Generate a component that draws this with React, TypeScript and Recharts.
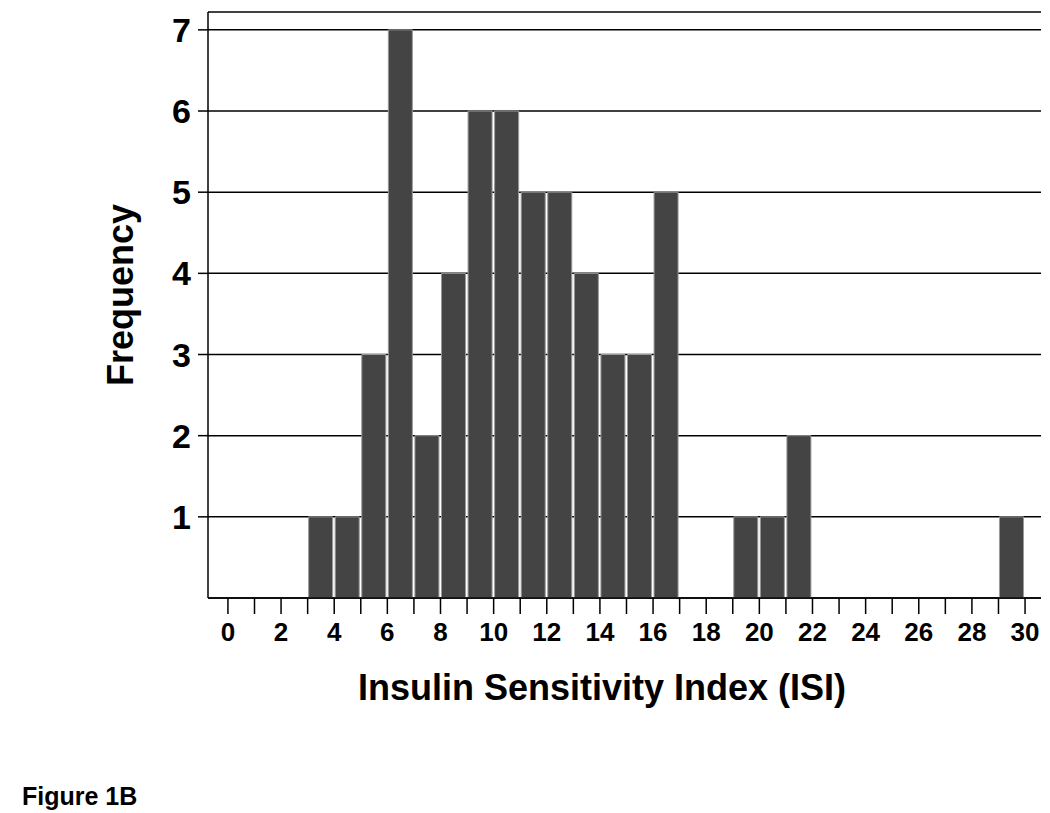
import React from "react";
import { BarChart, Bar, XAxis, YAxis, CartesianGrid } from "recharts";

// histogram bins (left edge of each 1-unit bin) and their counts
const binStarts = [3, 4, 5, 6, 7, 8, 9, 10, 11, 12, 13, 14, 15, 16, 19, 20, 21, 29];
const counts = [1, 1, 3, 7, 2, 4, 6, 6, 5, 5, 4, 3, 3, 5, 1, 1, 2, 1];

const xTicks = [0, 1, 2, 3, 4, 5, 6, 7, 8, 9, 10, 11, 12, 13, 14, 15, 16, 17, 18, 19, 20, 21, 22, 23, 24, 25, 26, 27, 28, 29, 30];
const yTicks = [1, 2, 3, 4, 5, 6, 7];

const xTitle = "Insulin Sensitivity Index (ISI)";
const yTitle = "Frequency";
const caption = "Figure 1B";

const FONT = "'Liberation Sans', Arial, sans-serif";

const data = binStarts.map((s, i) => ({ x: s + 0.5, count: counts[i] }));

// only even values carry a label
const XTick = (props: any) => {
  const { x, y, payload } = props;
  if (payload.value % 2 !== 0) return null;
  return (
    <text x={x} y={y + 19} textAnchor="middle" fontSize={26} fontWeight={700} fontFamily={FONT} fill="#000">
      {payload.value}
    </text>
  );
};

const YTick = (props: any) => {
  const { x, y, payload } = props;
  return (
    <text x={x} y={y + 12} textAnchor="end" fontSize={34} fontWeight={700} fontFamily={FONT} fill="#000">
      {payload.value}
    </text>
  );
};

export default function App() {
  return (
    <div style={{ position: "absolute", left: 0, top: 0, width: 1050, height: 813, background: "#fff", fontFamily: FONT }}>
      <BarChart
        width={1050}
        height={813}
        data={data}
        margin={{ top: 12, right: 9, left: 0, bottom: 155 }}
      >
        <CartesianGrid horizontal vertical={false} stroke="#000" strokeWidth={1.5} />
        <XAxis
          type="number"
          dataKey="x"
          domain={[-0.75, 30.6]}
          ticks={xTicks}
          interval={0}
          allowDataOverflow
          height={60}
          tickSize={16}
          tickMargin={8}
          axisLine={{ stroke: "#000", strokeWidth: 1.5 }}
          tickLine={{ stroke: "#000", strokeWidth: 1.5 }}
          tick={<XTick />}
        />
        <XAxis
          xAxisId="top"
          orientation="top"
          type="number"
          domain={[-0.75, 30.6]}
          height={0}
          tick={false}
          tickLine={false}
          axisLine={{ stroke: "#000", strokeWidth: 1.5 }}
        />
        <YAxis
          domain={[0, 7.22]}
          ticks={yTicks}
          allowDataOverflow
          width={208}
          tickSize={10}
          tickMargin={7}
          axisLine={{ stroke: "#000", strokeWidth: 1.5 }}
          tickLine={{ stroke: "#000", strokeWidth: 1.5 }}
          tick={<YTick />}
        />
        <YAxis
          yAxisId="right"
          orientation="right"
          domain={[0, 7.22]}
          width={0}
          tick={false}
          tickLine={false}
          axisLine={{ stroke: "#000", strokeWidth: 1.5 }}
        />
        <Bar dataKey="count" fill="#444" stroke="#999" strokeWidth={1} barSize={24} isAnimationActive={false} />
      </BarChart>
      <svg width={1050} height={813} style={{ position: "absolute", left: 0, top: 0, pointerEvents: "none" }}>
        <text x={602} y={700} textAnchor="middle" fontSize={36} fontWeight={700} fontFamily={FONT} fill="#000">
          {xTitle}
        </text>
        <text
          x={133}
          y={295}
          textAnchor="middle"
          transform="rotate(-90 133 295)"
          fontSize={36}
          fontWeight={700}
          fontFamily={FONT}
          fill="#000"
        >
          {yTitle}
        </text>
        <text x={22} y={805} fontSize={25} fontWeight={700} fontFamily={FONT} fill="#000">
          {caption}
        </text>
      </svg>
    </div>
  );
}
